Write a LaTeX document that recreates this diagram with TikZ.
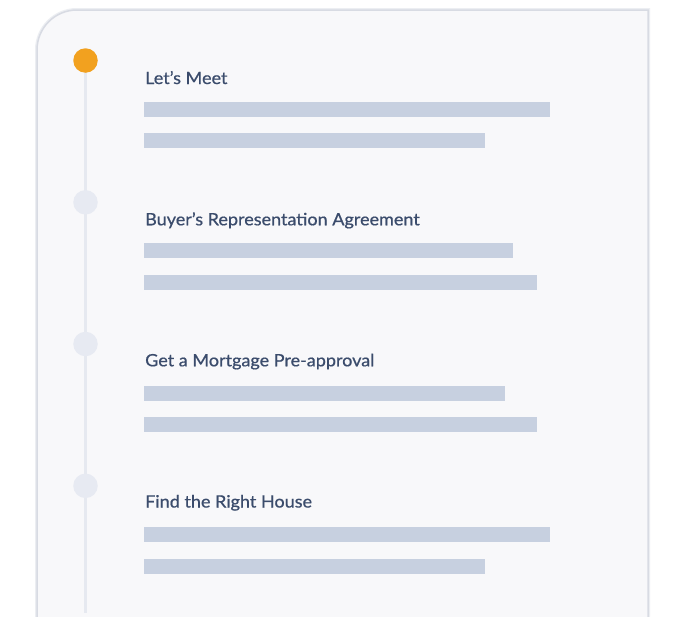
\documentclass[tikz,border=0pt]{standalone}
\usepackage{fontspec}
\setmainfont{Lato}[FakeStretch=1.06, FakeBold=0.7]
\definecolor{cardfill}{HTML}{F8F8FA}
\definecolor{cardedge}{HTML}{D8DBE3}
\definecolor{cardshadow}{HTML}{ECEEF2}
\definecolor{barcol}{HTML}{C7D0E0}
\definecolor{titlecol}{HTML}{3B4C6C}
\definecolor{linecol}{HTML}{E6E9F0}
\definecolor{dotgrey}{HTML}{E7EAF2}
\definecolor{dotorange}{HTML}{F2A11F}
\tikzset{
  dotnode/.style={circle, minimum size=24.5pt, inner sep=0pt, fill=dotgrey},
  titlenode/.style={anchor=base west, inner sep=0pt, text=titlecol, font=\fontsize{17}{20}\selectfont},
  barfill/.style={fill=barcol},
  cardpath/.style={}
}
\begin{document}
\begin{tikzpicture}[x=1pt,y=-1pt]
\useasboundingbox (0,0) rectangle (684,616);
\fill[white] (0,0) rectangle (684,616);
\begin{scope}
\clip (0,0) rectangle (684,616);
% card shadow and card
\draw[cardshadow, line width=4pt] (37,640) -- (37,50) arc[start angle=180, end angle=270, radius=40] -- (648,10) -- (648,640);
\fill[cardfill] (37,640) -- (37,50) arc[start angle=180, end angle=270, radius=40] -- (648,10) -- (648,640) -- cycle;
\draw[cardedge, line width=1.5pt] (37,640) -- (37,50) arc[start angle=180, end angle=270, radius=40] -- (648,10) -- (648,640);
% timeline
\coordinate (ltop) at (85.5,60.5);
\coordinate (lbot) at (85.5,613);
\draw[linecol, line width=2.5pt] (ltop) -- (lbot);
\node[dotnode, fill=dotorange] (d1) at (85.5,60.5) {};
\node[dotnode] (d2) at (85.5,202.3) {};
\node[dotnode] (d3) at (85.5,344) {};
\node[dotnode] (d4) at (85.5,485.8) {};
% titles
\node[titlenode] (t1) at (145,84) {Let's Meet};
\node[titlenode] (t2) at (145,225.3) {Buyer's Representation Agreement};
\node[titlenode] (t3) at (145,366.3) {Get a Mortgage Pre-approval};
\node[titlenode] (t4) at (145,507.5) {Find the Right House};
% bars
\fill[barfill] (144,102) rectangle (550,117);
\fill[barfill] (144,133.3) rectangle (485,148.3);
\fill[barfill] (144,243.3) rectangle (513,258.3);
\fill[barfill] (144,275) rectangle (537,290);
\fill[barfill] (144,385.7) rectangle (505,400.7);
\fill[barfill] (144,417) rectangle (537,432);
\fill[barfill] (144,527.3) rectangle (550,542.3);
\fill[barfill] (144,558.7) rectangle (485,573.7);
\end{scope}
\end{tikzpicture}
\end{document}
